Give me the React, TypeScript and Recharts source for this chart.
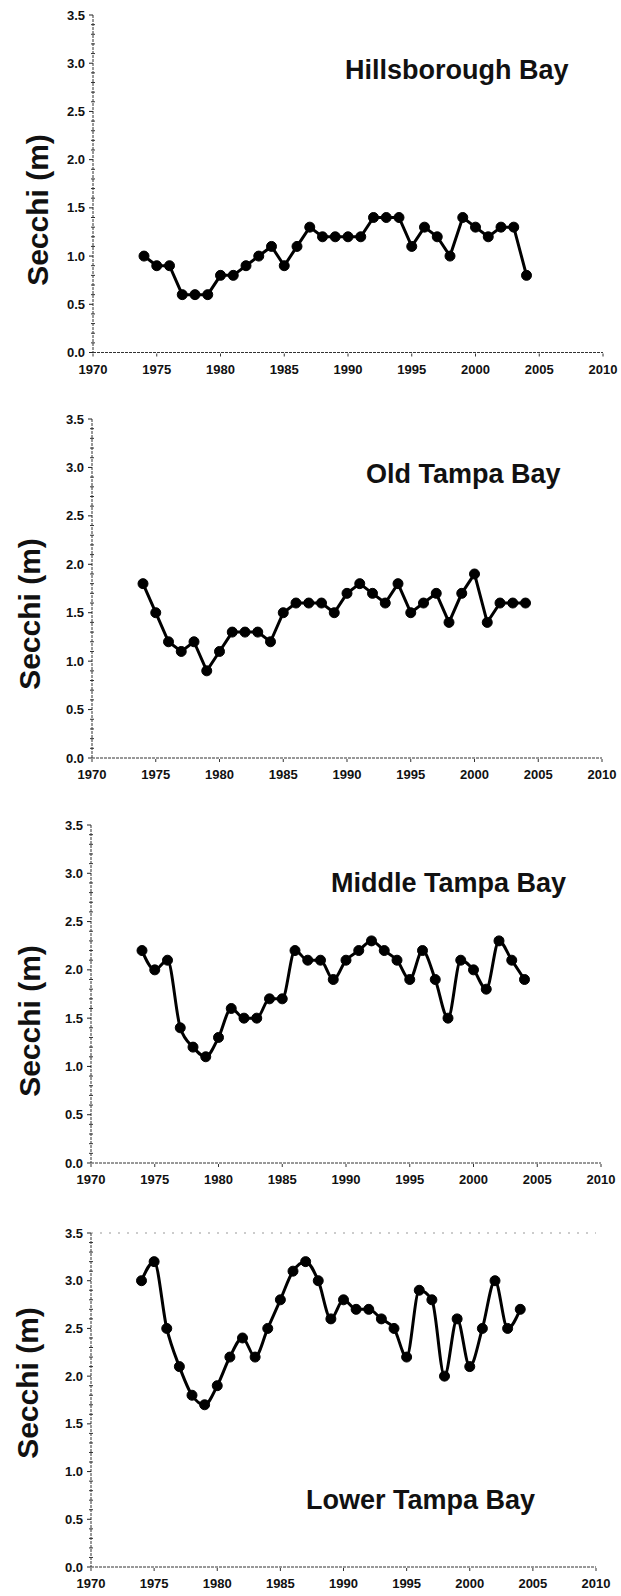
import { Line, LineChart, XAxis, YAxis, ReferenceLine } from "recharts";

const years = [
  1974, 1975, 1976, 1977, 1978, 1979, 1980, 1981, 1982, 1983, 1984, 1985, 1986,
  1987, 1988, 1989, 1990, 1991, 1992, 1993, 1994, 1995, 1996, 1997, 1998, 1999,
  2000, 2001, 2002, 2003, 2004,
];

const hillsborough = [
  1.0, 0.9, 0.9, 0.6, 0.6, 0.6, 0.8, 0.8, 0.9, 1.0, 1.1, 0.9, 1.1, 1.3, 1.2,
  1.2, 1.2, 1.2, 1.4, 1.4, 1.4, 1.1, 1.3, 1.2, 1.0, 1.4, 1.3, 1.2, 1.3, 1.3, 0.8,
];
const oldTampa = [
  1.8, 1.5, 1.2, 1.1, 1.2, 0.9, 1.1, 1.3, 1.3, 1.3, 1.2, 1.5, 1.6, 1.6, 1.6,
  1.5, 1.7, 1.8, 1.7, 1.6, 1.8, 1.5, 1.6, 1.7, 1.4, 1.7, 1.9, 1.4, 1.6, 1.6, 1.6,
];
const middleTampa = [
  2.2, 2.0, 2.1, 1.4, 1.2, 1.1, 1.3, 1.6, 1.5, 1.5, 1.7, 1.7, 2.2, 2.1, 2.1,
  1.9, 2.1, 2.2, 2.3, 2.2, 2.1, 1.9, 2.2, 1.9, 1.5, 2.1, 2.0, 1.8, 2.3, 2.1, 1.9,
];
const lowerTampa = [
  3.0, 3.2, 2.5, 2.1, 1.8, 1.7, 1.9, 2.2, 2.4, 2.2, 2.5, 2.8, 3.1, 3.2, 3.0,
  2.6, 2.8, 2.7, 2.7, 2.6, 2.5, 2.2, 2.9, 2.8, 2.0, 2.6, 2.1, 2.5, 3.0, 2.5, 2.7,
];

const xTicks = [1970, 1975, 1980, 1985, 1990, 1995, 2000, 2005, 2010];
const yTicks = [
  0, 0.1, 0.2, 0.3, 0.4, 0.5, 0.6, 0.7, 0.8, 0.9, 1.0, 1.1, 1.2, 1.3, 1.4, 1.5,
  1.6, 1.7, 1.8, 1.9, 2.0, 2.1, 2.2, 2.3, 2.4, 2.5, 2.6, 2.7, 2.8, 2.9, 3.0, 3.1,
  3.2, 3.3, 3.4, 3.5,
];
const majorTicks = [0, 0.5, 1.0, 1.5, 2.0, 2.5, 3.0, 3.5];

const FONT = "'Liberation Sans', Arial, sans-serif";

const panels = [
  { name: "Hillsborough Bay", values: hillsborough, curve: "linear", left: 93, right: 603, top: 14.5, bottom: 352, tx: 345, ty: 79, lx: 37, ly: 210 },
  { name: "Old Tampa Bay", values: oldTampa, curve: "linear", left: 92, right: 602, top: 419, bottom: 758, tx: 366, ty: 483, lx: 29, ly: 614 },
  { name: "Middle Tampa Bay", values: middleTampa, curve: "monotone", left: 91, right: 601, top: 825, bottom: 1163, tx: 331, ty: 892, lx: 29, ly: 1021 },
  { name: "Lower Tampa Bay", values: lowerTampa, curve: "monotone", left: 91, right: 596, top: 1233, bottom: 1567, tx: 306, ty: 1509, lx: 27, ly: 1383 },
];

function YTick({ y, payload, axisX }: any) {
  const v = payload.value;
  const major = majorTicks.some((m) => Math.abs(m - v) < 1e-6);
  return (
    <g>
      {major ? (
        <>
          <line x1={axisX - 4} x2={axisX} y1={y} y2={y} stroke="#222" strokeWidth={1} />
          <text x={axisX - 8} y={y} dy="0.35em" textAnchor="end" fontSize={13} fontWeight="bold" fontFamily={FONT} fill="#111">
            {Number(v).toFixed(1)}
          </text>
        </>
      ) : (
        <line x1={axisX - 2} x2={axisX + 2} y1={y} y2={y} stroke="#333" strokeWidth={1} />
      )}
    </g>
  );
}

function Panel({ p }: { p: (typeof panels)[number] }) {
  const rows = years.map((year, i) => ({ year, secchi: p.values[i] }));
  const chartTop = p.top - 10;
  const height = p.bottom - p.top + 10 + 40;
  return (
    <div style={{ position: "absolute", left: 0, top: chartTop }}>
      <LineChart
        width={621}
        height={height}
        data={rows}
        margin={{ top: 10, right: 621 - p.right, bottom: 0, left: 0 }}
      >
        <XAxis
          dataKey="year"
          type="number"
          domain={[1970, 2010]}
          ticks={xTicks}
          interval={0}
          height={40}
          tickSize={4}
          tickMargin={8}
          stroke="#333"
          strokeDasharray="3 1"
          tick={{ fontSize: 13, fontWeight: "bold", fontFamily: FONT, fill: "#111" }}
        />
        <YAxis
          type="number"
          domain={[0, 3.5]}
          ticks={yTicks}
          interval={0}
          width={p.left}
          tickLine={false}
          stroke="#333"
          strokeDasharray="3 1"
          tick={<YTick axisX={p.left} />}
        />
        {p.name === "Lower Tampa Bay" && (
          <ReferenceLine y={3.5} stroke="#999" strokeDasharray="2 7" />
        )}
        <Line
          type={p.curve as any}
          dataKey="secchi"
          stroke="#000"
          strokeWidth={3}
          dot={{ r: 5, fill: "#000", stroke: "#000", strokeWidth: 1 }}
          isAnimationActive={false}
        />
      </LineChart>
    </div>
  );
}

export default function App() {
  return (
    <div style={{ position: "absolute", left: 0, top: 0, width: 621, height: 1596, background: "#fff" }}>
      {panels.map((p) => (
        <Panel key={p.name} p={p} />
      ))}
      <svg width={621} height={1596} style={{ position: "absolute", left: 0, top: 0, pointerEvents: "none" }}>
        {panels.map((p) => (
          <g key={p.name}>
            <text x={p.tx} y={p.ty} fontSize={27} fontWeight="bold" fontFamily={FONT} fill="#111">
              {p.name}
            </text>
            <text
              x={p.lx}
              y={p.ly}
              transform={`rotate(-90 ${p.lx} ${p.ly})`}
              textAnchor="middle"
              dominantBaseline="central"
              fontSize={30}
              fontWeight="bold"
              fontFamily={FONT}
              fill="#111"
            >
              Secchi (m)
            </text>
          </g>
        ))}
      </svg>
    </div>
  );
}
